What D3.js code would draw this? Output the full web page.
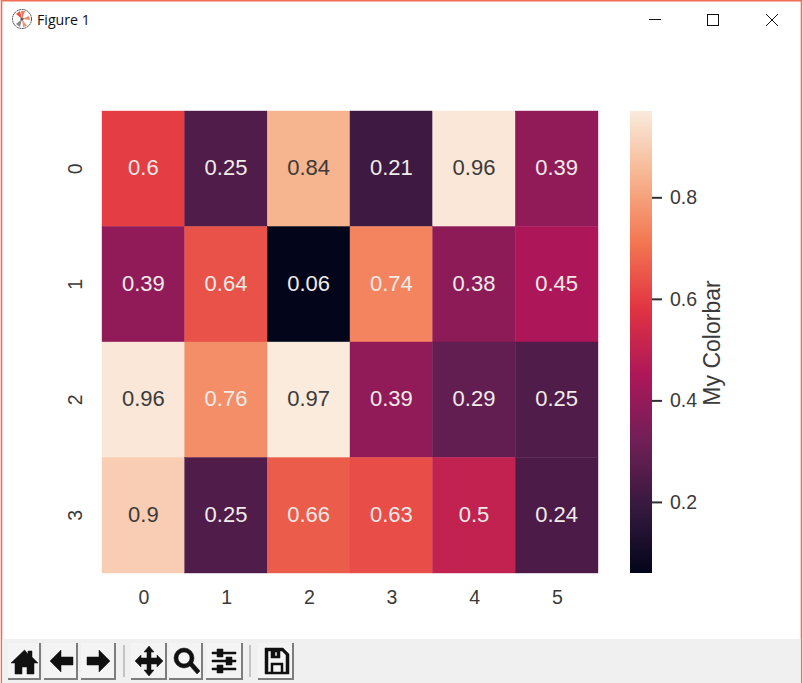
<!DOCTYPE html>
<html>
<head>
<meta charset="utf-8">
<script src="https://cdnjs.cloudflare.com/ajax/libs/d3/7.8.5/d3.min.js"></script>
<style>
  html, body { margin: 0; padding: 0; background: #fff; overflow: hidden; }
  svg { display: block; }
  text { font-family: "Liberation Sans", Arial, sans-serif; }
  .axis path, .axis line { stroke: #303030; }
  .axis text { fill: #3a3a3a; }
</style>
</head>
<body>
<div id="chart"></div>
<script>
// the values
var rows = ["0", "1", "2", "3"];
var cols = ["0", "1", "2", "3", "4", "5"];
var row0 = [0.6, 0.25, 0.84, 0.21, 0.96, 0.39];
var row1 = [0.39, 0.64, 0.06, 0.74, 0.38, 0.45];
var row2 = [0.96, 0.76, 0.97, 0.39, 0.29, 0.25];
var row3 = [0.9, 0.25, 0.66, 0.63, 0.5, 0.24];
var colorbarTicks = [0.2, 0.4, 0.6, 0.8];
var colorbarLabel = "My Colorbar";

// seaborn "rocket", evenly spaced stops
var rocket = ["#03051a", "#35193e", "#701f57", "#ad1759", "#e13342", "#f37651", "#f6b48f", "#faebdd"];
var rocketPos = [0, 1/7, 2/7, 3/7, 4/7, 5/7, 6/7, 1];

var width = 803, height = 683;
var plot = {left: 102, right: 598, top: 111, bottom: 573};
var bar = {left: 630, right: 652};

var matrix = [row0, row1, row2, row3];
var vmin = d3.min(matrix, function(r) { return d3.min(r); });
var vmax = d3.max(matrix, function(r) { return d3.max(r); });

var ramp = d3.scaleLinear().domain(rocketPos).range(rocket).interpolate(d3.interpolateRgb);
var color = function(v) { return ramp((v - vmin) / (vmax - vmin)); };

var svg = d3.select("#chart").append("svg")
    .attr("width", width)
    .attr("height", height);

var x = d3.scaleBand().domain(cols).range([plot.left, plot.right]);
var y = d3.scaleBand().domain(rows).range([plot.top, plot.bottom]);
var yBar = d3.scaleLinear().domain([vmin, vmax]).range([plot.bottom, plot.top]);

// heatmap cells
var cells = svg.append("g").selectAll("g")
    .data(d3.merge(matrix.map(function(r, i) {
        return r.map(function(v, j) { return {row: rows[i], col: cols[j], value: v}; });
    })))
    .enter().append("g");

// thin own-colour stroke closes the white seams between cells
cells.append("rect")
    .attr("x", function(d) { return x(d.col); })
    .attr("y", function(d) { return y(d.row); })
    .attr("width", x.bandwidth())
    .attr("height", y.bandwidth())
    .attr("fill", function(d) { return color(d.value); })
    .attr("stroke", function(d) { return color(d.value); })
    .attr("stroke-width", 0.4);

cells.append("text")
    .attr("x", function(d) { return x(d.col) + x.bandwidth() / 2; })
    .attr("y", function(d) { return y(d.row) + y.bandwidth() / 2; })
    .attr("dy", "0.29em")
    .attr("text-anchor", "middle")
    .attr("font-size", 22)
    .attr("fill", function(d) { return d.value >= 0.8 ? "#3a3a3a" : "#f0ece8"; })
    .text(function(d) { return d.value; });

// axes
var xAxis = svg.append("g")
    .attr("class", "axis")
    .attr("transform", "translate(0.7," + plot.bottom + ")")
    .call(d3.axisBottom(x).tickSize(0).tickPadding(17));
xAxis.select(".domain").remove();
xAxis.selectAll("text").attr("font-size", 19.5);

var yAxis = svg.append("g")
    .attr("class", "axis")
    .attr("transform", "translate(" + plot.left + ",0)")
    .call(d3.axisLeft(y).tickSize(0).tickPadding(0));
yAxis.select(".domain").remove();
yAxis.selectAll("text")
    .attr("font-size", 19.5)
    .attr("x", null)
    .attr("text-anchor", "middle")
    .attr("transform", "translate(-27,0) rotate(-90)")
    .attr("dy", "0.36em");

// colorbar
var grad = svg.append("defs").append("linearGradient")
    .attr("id", "rocketGrad")
    .attr("x1", 0).attr("y1", 1).attr("x2", 0).attr("y2", 0);
grad.selectAll("stop")
    .data(rocket)
    .enter().append("stop")
    .attr("offset", function(d, i) { return rocketPos[i]; })
    .attr("stop-color", function(d) { return d; });

svg.append("rect")
    .attr("x", bar.left)
    .attr("y", plot.top)
    .attr("width", bar.right - bar.left)
    .attr("height", plot.bottom - plot.top)
    .attr("fill", "url(#rocketGrad)");

var barAxis = svg.append("g")
    .attr("class", "axis")
    .attr("transform", "translate(" + bar.right + ",0)")
    .call(d3.axisRight(yBar).tickValues(colorbarTicks).tickSize(10).tickPadding(8).tickFormat(d3.format(".1f")));
barAxis.select(".domain").remove();
barAxis.selectAll("line").attr("stroke-width", 2);
barAxis.selectAll("text").attr("font-size", 19.5);

svg.append("text")
    .attr("transform", "translate(712," + ((plot.top + plot.bottom) / 2 + 1) + ") rotate(-90)")
    .attr("dy", "0.36em")
    .attr("text-anchor", "middle")
    .attr("font-size", 23)
    .attr("fill", "#3a3a3a")
    .text(colorbarLabel);

// window frame and title bar
var chrome = svg.append("g");
chrome.append("path")
    .attr("d", "M1.5,683V0.8H801.5V683")
    .attr("fill", "none")
    .attr("stroke", "#f26d55")
    .attr("stroke-width", 1.6);

var logo = chrome.append("g").attr("transform", "translate(22,19)");
logo.append("circle").attr("r", 9.5).attr("fill", "#fff").attr("stroke", "#444").attr("stroke-width", 1).attr("stroke-dasharray", "2 0.6");
logo.append("path").attr("d", "M0,0L-6,-5L-2,-8Z").attr("fill", "#e8553f");
logo.append("path").attr("d", "M0,0L-1,-8L3,-8Z").attr("fill", "#ee7a62");
logo.append("path").attr("d", "M0,0L7,-3L8,1Z").attr("fill", "#ee8a72");
logo.append("path").attr("d", "M0,0L5,7L1,8Z").attr("fill", "#f2907a");
logo.append("path").attr("d", "M0,0L-6,5L-2,8Z").attr("fill", "#888");
logo.append("circle").attr("r", 1.6).attr("fill", "#555");

chrome.append("text")
    .attr("x", 37).attr("y", 25)
    .attr("font-size", 14.2)
    .attr("fill", "#111")
    .style("font-family", "'Open Sans', sans-serif")
    .text("Figure 1");

chrome.append("path").attr("d", "M649,19.5H661").attr("stroke", "#111").attr("fill", "none");
chrome.append("rect").attr("x", 707.5).attr("y", 14.5).attr("width", 11).attr("height", 11).attr("stroke", "#111").attr("fill", "none");
chrome.append("path").attr("d", "M766,14L778,26M778,14L766,26").attr("stroke", "#111").attr("fill", "none");

// matplotlib toolbar
var toolbar = chrome.append("g");
toolbar.append("rect").attr("x", 2.3).attr("y", 639).attr("width", 798.4).attr("height", 44).attr("fill", "#f0f0f0");

var buttons = [
    {x: 8, w: 33, d: "M24.5,650L11,663H15V674H22V667H27V674H34V663H38L32,657V651H28V654Z"},
    {x: 44, w: 34, d: "M61,650L50,661L61,672V665H73V657H61Z"},
    {x: 81, w: 35, d: "M99,650L110,661L99,672V665H87V657H99Z"},
    {x: 131, w: 36, d: "M149,646L154,652H151V658H157V655L163,661L157,667V664H151V670H154L149,676L144,670H147V664H141V667L135,661L141,655V658H147V652H144Z"},
    {x: 169, w: 34, d: "M184,648A10,10 0 1,0 184,668A10,10 0 1,0 184,648ZM184,652A6,6 0 1,1 184,664A6,6 0 1,1 184,652ZM189,665L197,674L200,671L192,662Z"},
    {x: 206, w: 37, d: "M212,652H236V654H212ZM212,660H236V662H212ZM212,668H236V670H212ZM217,649H223V657H217ZM226,657H232V665H226ZM217,665H223V673H217Z"},
    {x: 258, w: 36, d: "M265,648H283L289,654V674H265ZM268,651V672H286V655L282,651H280V658H271V651ZM275,652V656H277V652ZM271,663H283V672H281V665H273V672H271Z"}
];
// raised button look: light on top and left, dark on the bottom and right
toolbar.selectAll("rect.btn")
    .data(buttons)
    .enter().append("rect")
    .attr("class", "btn")
    .attr("x", function(d) { return d.x; })
    .attr("y", 643)
    .attr("width", function(d) { return d.w; })
    .attr("height", 37)
    .attr("fill", "#f4f4f4");
toolbar.selectAll("path.shade")
    .data(buttons)
    .enter().append("path")
    .attr("class", "shade")
    .attr("d", function(d) { return "M" + (d.x + d.w - 1) + ",643V679H" + d.x; })
    .attr("fill", "none")
    .attr("stroke", "#7d7d7d")
    .attr("stroke-width", 2);
toolbar.selectAll("path.icon")
    .data(buttons)
    .enter().append("path")
    .attr("class", "icon")
    .attr("d", function(d) { return d.d; })
    .attr("fill", "#111")
    .attr("stroke", "#111")
    .attr("stroke-width", 0.5)
    .attr("stroke-linejoin", "round");
toolbar.selectAll("line.sep")
    .data([124, 250])
    .enter().append("line")
    .attr("class", "sep")
    .attr("x1", function(d) { return d; })
    .attr("x2", function(d) { return d; })
    .attr("y1", 645).attr("y2", 677)
    .attr("stroke", "#b5b5b5")
    .attr("stroke-width", 1.5);
</script>
</body>
</html>
